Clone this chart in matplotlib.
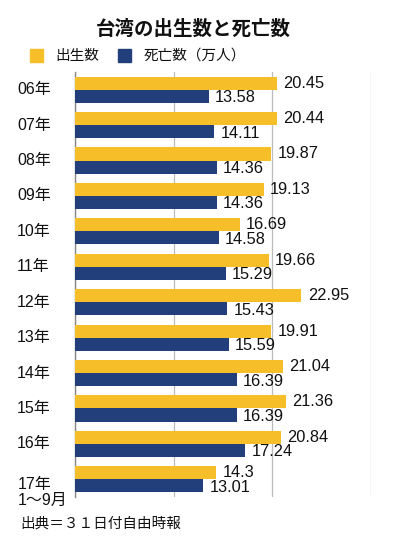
import matplotlib
matplotlib.use("Agg")
import matplotlib.pyplot as plt
from matplotlib.patches import Rectangle
import matplotlib.transforms as mtransforms
import numpy as np

plt.rcParams['font.family'] = ['Noto Sans CJK JP', 'DejaVu Sans']
MIX = ['Liberation Sans', 'Noto Sans CJK JP']

title = "台湾の出生数と死亡数"
categories = ["06年", "07年", "08年", "09年", "10年", "11年", "12年", "13年", "14年", "15年", "16年", "17年\n1〜9月"]
births = [20.45, 20.44, 19.87, 19.13, 16.69, 19.66, 22.95, 19.91, 21.04, 21.36, 20.84, 14.3]
deaths = [13.58, 14.11, 14.36, 14.36, 14.58, 15.29, 15.43, 15.59, 16.39, 16.39, 17.24, 13.01]
birth_labels = ["20.45", "20.44", "19.87", "19.13", "16.69", "19.66", "22.95", "19.91", "21.04", "21.36", "20.84", "14.3"]
death_labels = ["13.58", "14.11", "14.36", "14.36", "14.58", "15.29", "15.43", "15.59", "16.39", "16.39", "17.24", "13.01"]
legend_labels = ["出生数", "死亡数（万人）"]
source = "出典＝３１日付自由時報"
xticks = [0, 10, 20, 30]

YELLOW = "#F6BE29"
NAVY = "#223F7C"

W, H = 394, 544
fig = plt.figure(figsize=(W/100, H/100), dpi=100)
ax = fig.add_axes([75/W, 1-497/H, (371-75)/W, (497-72)/H])

n = len(categories)
y = np.arange(n)
h = 0.37
ax.barh(y - h/2, births, height=h, color=YELLOW, zorder=3)
ax.barh(y + h/2, deaths, height=h, color=NAVY, zorder=3)

for i in range(n):
    ax.annotate(birth_labels[i], (births[i], y[i] - h/2), xytext=(4.5, 0), textcoords='offset points',
                ha='left', va='center', fontsize=11.8, family=MIX, color='#111111', zorder=4)
    ax.annotate(death_labels[i], (deaths[i], y[i] + h/2 + 0.04), xytext=(4.5, 0), textcoords='offset points',
                ha='left', va='center', fontsize=11.8, family=MIX, color='#111111', zorder=4)

ax.set_xlim(0, 30)
ax.set_ylim(n - 0.5, -0.5)
ax.set_xticks(xticks)
ax.set_yticks([])
ax.tick_params(axis='x', length=0, labelbottom=False)
for s in ['top', 'right', 'bottom']:
    ax.spines[s].set_visible(False)
ax.spines['left'].set_color('#888888')
ax.spines['left'].set_linewidth(1.0)
ax.grid(axis='x', color='#BBBBBB', linewidth=0.9, zorder=0)
ax.set_axisbelow(True)

trans = mtransforms.blended_transform_factory(fig.transFigure, ax.transData)
for i, c in enumerate(categories):
    if "\n" in c:
        ax.text(18/W, y[i] + 0.38, c, transform=trans, ha='left', va='center', fontsize=11.5,
                family=MIX, linespacing=1.1, color='#111111')
    else:
        ax.text(17/W, y[i], c, transform=trans, ha='left', va='center', fontsize=11.5,
                family=MIX, color='#111111')

fig.text(193/W, 1-29/H, title, ha='center', va='center', fontsize=14, fontweight='bold', color='#111111')

# legend
fig.patches.append(Rectangle((30/W, 1-62/H), 13/W, 13/H, transform=fig.transFigure, color=YELLOW))
fig.text(55/W, 1-56/H, legend_labels[0], ha='left', va='center', fontsize=10.5, color='#111111')
fig.patches.append(Rectangle((118/W, 1-62/H), 13/W, 13/H, transform=fig.transFigure, color=NAVY))
fig.text(144/W, 1-56/H, legend_labels[1], ha='left', va='center', fontsize=10.5, color='#111111')

fig.text(20/W, 1-524/H, source, ha='left', va='center', fontsize=10.5, color='#111111')

fig.savefig("out.png", dpi=100, facecolor='white')
